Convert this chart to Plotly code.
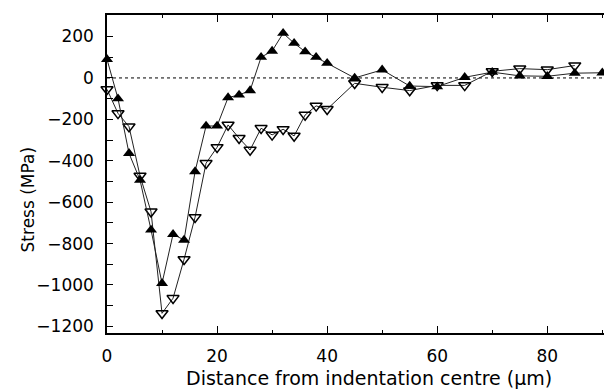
import plotly.graph_objects as go

# distance from indentation centre (um)
distance = [0, 2, 4, 6, 8, 10, 12, 14, 16, 18, 20, 22, 24, 26, 28, 30, 32, 34, 36, 38, 40,
            45, 50, 55, 60, 65, 70, 75, 80, 85, 90]

# filled up-triangle series (MPa)
stress_filled = [90, -100, -364, -493, -734, -992, -755, -783, -452, -232, -232, -95, -82, -61,
                 100, 130, 216, 168, 127, 100, 71,
                 0, 39, -39, -42, 3, 28, 10, 8, 23, 25]

# open down-triangle series (MPa), ends at 85 um
distance_open = distance[:-1]
stress_open = [-55, -171, -235, -473, -646, -1137, -1064, -876, -673, -412, -335, -227, -291, -348,
               -243, -275, -248, -280, -179, -135, -151,
               -26, -45, -61, -36, -36, 32, 45, 40, 60]

x_ticks = [0, 20, 40, 60, 80]
y_ticks = [-1200, -1000, -800, -600, -400, -200, 0, 200]

FONT = "DejaVu Sans"

fig = go.Figure()

fig.add_trace(go.Scatter(
    x=distance_open, y=stress_open, mode="lines+markers",
    line=dict(color="#222222", width=1),
    marker=dict(symbol="triangle-down-open", size=10.5, color="black", line=dict(color="black", width=1.5)),
    cliponaxis=False, showlegend=False))

fig.add_trace(go.Scatter(
    x=distance, y=stress_filled, mode="lines+markers",
    line=dict(color="#222222", width=1),
    marker=dict(symbol="triangle-up", size=10.5, color="black"),
    cliponaxis=False, showlegend=False))

fig.add_hline(y=0, line=dict(color="black", width=1, dash="dot"), layer="below")

fig.update_xaxes(
    range=[0, 91.4], tickvals=x_ticks, ticks="inside", ticklen=7, tickwidth=1.2, tickcolor="black",
    minor=dict(dtick=10, tick0=0, ticks="inside", ticklen=3, tickcolor="black", tickwidth=1),
    showline=True, linecolor="black", linewidth=1.5, mirror="ticks",
    showgrid=False, zeroline=False, ticklabelstandoff=7,
    tickfont=dict(family=FONT, size=17, color="black"))

fig.update_yaxes(
    range=[-1232, 304], tickvals=y_ticks, ticks="inside", ticklen=6, tickwidth=1.2, tickcolor="black",
    minor=dict(dtick=100, tick0=0, ticks="inside", ticklen=6, tickcolor="black", tickwidth=1),
    showline=True, linecolor="black", linewidth=1.5, mirror="ticks",
    showgrid=False, zeroline=False, ticklabelstandoff=8,
    tickfont=dict(family=FONT, size=17, color="black"))

fig.add_annotation(text="Distance from indentation centre (\u03bcm)", xref="paper", yref="paper",
                   x=0.52, y=0, yshift=-45, xanchor="center", yanchor="middle", showarrow=False,
                   font=dict(family=FONT, size=19, color="black"))
fig.add_annotation(text="Stress (MPa)", xref="paper", yref="paper", textangle=-90,
                   x=0, xshift=-79, y=0.42, xanchor="center", yanchor="middle", showarrow=False,
                   font=dict(family=FONT, size=17, color="black"))

# page body adds an 8px margin, so the figure is 8px smaller to keep the frame aligned
fig.update_layout(width=604, height=382, margin=dict(l=99, r=0, t=7, b=57),
                  plot_bgcolor="white", paper_bgcolor="white")

fig.write_html("out.html")
